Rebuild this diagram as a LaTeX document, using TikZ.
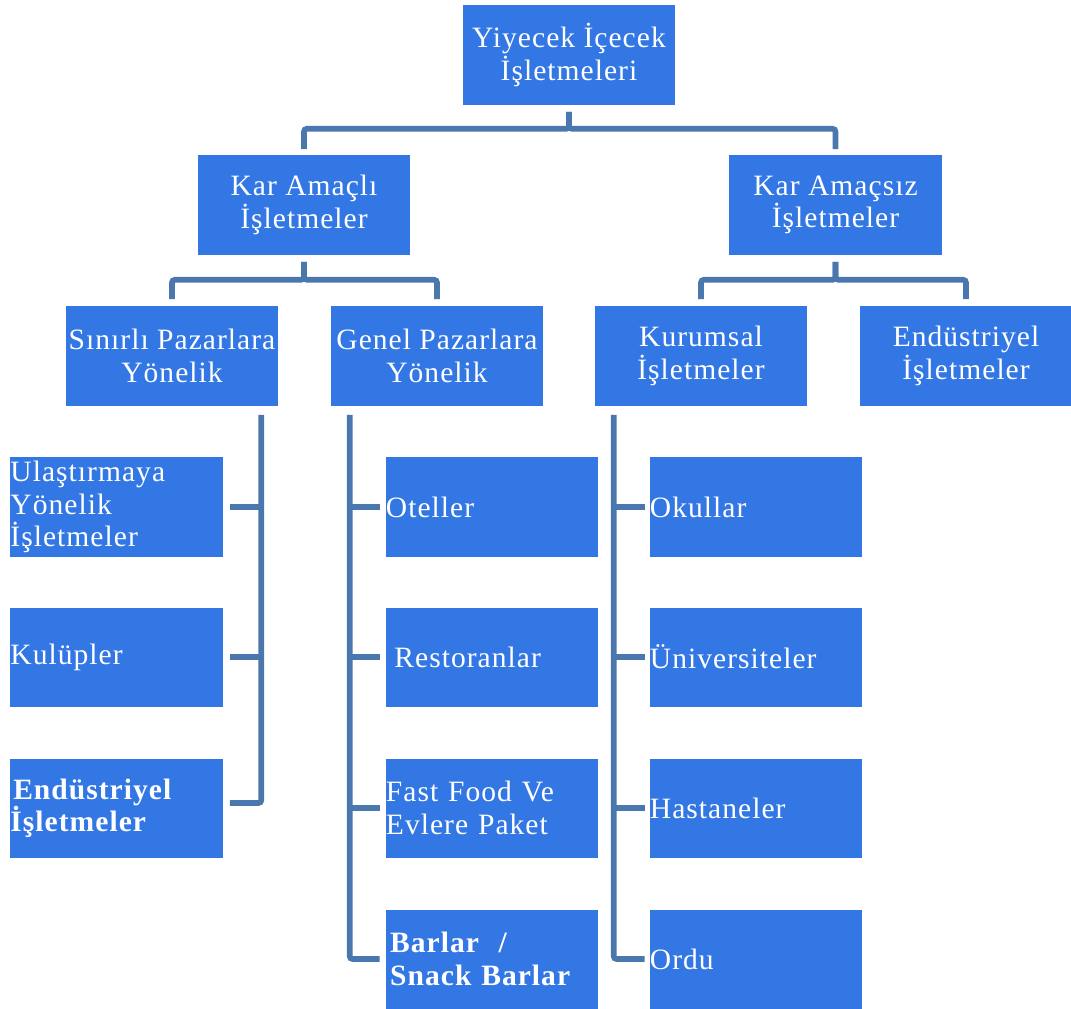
\documentclass[tikz,border=0pt]{standalone}
\usepackage{fontspec}
\setmainfont{Liberation Serif}[LetterSpace=3.5]
\usepackage{tikz}

\definecolor{kutumavi}{HTML}{3377E5}
\definecolor{hatmavi}{HTML}{4A77AD}

\tikzset{
	kutu/.style={rectangle, fill=kutumavi, text=white, inner sep=0pt,
		minimum width=5.3cm, minimum height=2.475cm, align=center,
		font=\fontsize{21}{23}\selectfont},
	yaprak/.style={kutu, text width=5.3cm, align=left},
	baglanti/.style={draw=hatmavi, line width=4pt, rounded corners=2pt}
}

\begin{document}
\begin{tikzpicture}[x=0.025cm, y=-0.025cm]
	\useasboundingbox (0,0) rectangle (1071,1008);

	% ust seviye
	\node[kutu] (kok) at (569,55) {Yiyecek İçecek\\İşletmeleri};
	\node[kutu] (karli) at (304,205) {Kar Amaçlı\\İşletmeler};
	\node[kutu] (karsiz) at (835.5,205) {Kar Amaçsız\\İşletmeler};

	% ikinci seviye
	\node[kutu] (sinirli) at (172,356) {Sınırlı Pazarlara\\Yönelik};
	\node[kutu] (genel) at (437,356) {Genel Pazarlara\\Yönelik};
	\node[kutu] (kurumsal) at (701,356) {Kurumsal\\İşletmeler};
	\node[kutu] (endustri) at (966,356) {Endüstriyel\\İşletmeler};

	% yapraklar
	\node[yaprak] (ulastirma) at (116.5,507) {Ulaştırmaya\\Yönelik\\İşletmeler};
	\node[yaprak] (kulup) at (116.5,657) {Kulüpler};
	\node[yaprak] (endustriyel) at (116.5,808) {\bfseries\hspace*{2pt}Endüstriyel\\İşletmeler};

	\node[yaprak] (oteller) at (492,507) {Oteller};
	\node[yaprak] (restoran) at (492,657) {\hspace*{6pt}Restoranlar};
	\node[yaprak] (fastfood) at (492,808) {Fast Food Ve\\Evlere Paket};
	\node[yaprak] (barlar) at (492,959) {\bfseries\hspace*{3pt}Barlar~~/\\\hspace*{3pt}Snack Barlar};

	\node[yaprak] (okul) at (756,507) {Okullar};
	\node[yaprak] (universite) at (756,657) {Üniversiteler};
	\node[yaprak] (hastane) at (756,808) {Hastaneler};
	\node[yaprak] (ordu) at (756,959) {Ordu};

	% agac baglantilari
	\draw[baglanti, shorten <=0.175cm, shorten >=0.15cm] (kok.south) -- ++(0,24) -| (karli.north);
	\draw[baglanti, shorten <=0.175cm, shorten >=0.15cm] (kok.south) -- ++(0,24) -| (karsiz.north);
	\draw[baglanti, shorten <=0.175cm, shorten >=0.175cm] (karli.south) -- ++(0,25) -| (sinirli.north);
	\draw[baglanti, shorten <=0.175cm, shorten >=0.175cm] (karli.south) -- ++(0,25) -| (genel.north);
	\draw[baglanti, shorten <=0.175cm, shorten >=0.175cm] (karsiz.south) -- ++(0,25) -| (kurumsal.north);
	\draw[baglanti, shorten <=0.175cm, shorten >=0.175cm] (karsiz.south) -- ++(0,25) -| (endustri.north);

	% dikey hatlar
	\coordinate (solhat) at ([xshift=-0.425cm]sinirli.south east);
	\coordinate (ortahat) at ([xshift=0.475cm]genel.south west);
	\coordinate (saghat) at ([xshift=0.475cm]kurumsal.south west);

	\draw[baglanti, shorten <=0.225cm, shorten >=0.175cm] (solhat) |- ([yshift=0.125cm]endustriyel.east);
	\foreach \n in {ulastirma,kulup}
		\draw[baglanti, shorten >=0.175cm] (solhat |- \n.east) -- (\n.east);

	\draw[baglanti, shorten <=0.225cm, shorten >=0.15cm] (ortahat) |- (barlar.west);
	\foreach \n in {oteller,restoran,fastfood}
		\draw[baglanti, shorten >=0.15cm] (ortahat |- \n.west) -- (\n.west);

	\draw[baglanti, shorten <=0.225cm, shorten >=0.125cm] (saghat) |- (ordu.west);
	\foreach \n in {okul,universite,hastane}
		\draw[baglanti, shorten >=0.125cm] (saghat |- \n.west) -- (\n.west);
\end{tikzpicture}
\end{document}
